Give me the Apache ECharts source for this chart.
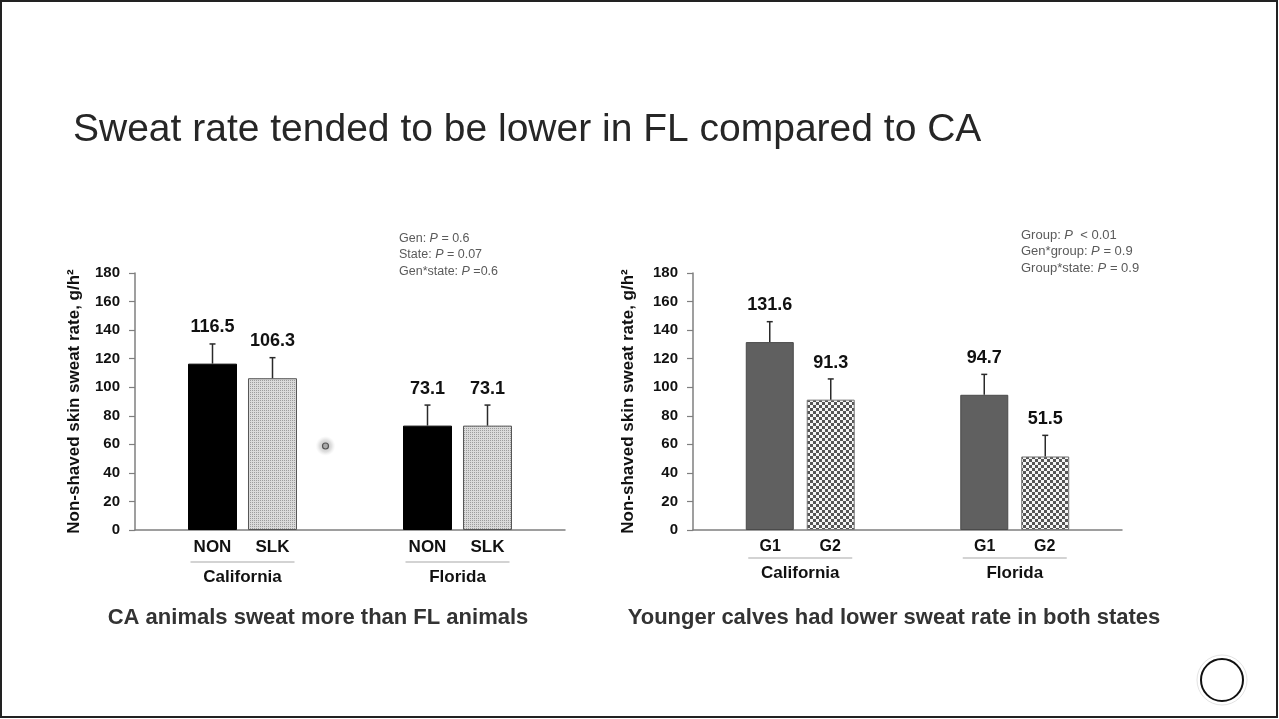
<!DOCTYPE html>
<html><head><meta charset="utf-8">
<script src="https://cdn.jsdelivr.net/npm/echarts@6/dist/echarts.min.js"></script>
<style>html,body{margin:0;padding:0;background:#fff}#c{width:1279px;height:719px}</style>
</head><body><div id="c"></div>
<script>
// ---- data ----
const groups = ['California', 'Florida'];
const leftNames = ['NON', 'SLK'];
const leftNON = [116.5, 73.1];
const leftSLK = [106.3, 73.1];
const leftNONErr = [13.8, 14.4];
const leftSLKErr = [14.4, 14.4];
const rightNames = ['G1', 'G2'];
const rightG1 = [131.6, 94.7];
const rightG2 = [91.3, 51.5];
const rightG1Err = [14.3, 14.3];
const rightG2Err = [14.5, 14.8];
const yMin = 0, yMax = 180, yStep = 20;
const yName = 'Non-shaved skin sweat rate, g/h\u00B2';
const leftStats = ['Gen: {i|P} = 0.6', 'State: {i|P} = 0.07', 'Gen*state: {i|P} =0.6'];
const rightStats = ['Group: {i|P}  < 0.01', 'Gen*group: {i|P} = 0.9', 'Group*state: {i|P} = 0.9'];
const titleText = 'Sweat rate tended to be lower in FL compared to CA';
const leftCaption = 'CA animals sweat more than FL animals';
const rightCaption = 'Younger calves had lower sweat rate in both states';

// ---- styles ----
const FONT = '"Liberation Sans", Arial, sans-serif';
function makePattern(w, h, draw) {
  const c = document.createElement('canvas'); c.width = w; c.height = h;
  draw(c.getContext('2d')); return c;
}
const slkPattern = makePattern(2, 2, ctx => {
  ctx.fillStyle = '#dadada'; ctx.fillRect(0, 0, 2, 2);
  ctx.fillStyle = '#9c9c9c'; ctx.fillRect(0, 0, 1, 1);
});
const checkPattern = makePattern(6, 6, ctx => {
  ctx.fillStyle = '#f6f6f6'; ctx.fillRect(0, 0, 6, 6);
  ctx.fillStyle = '#555555'; ctx.fillRect(0, 0, 3, 3); ctx.fillRect(3, 3, 3, 3);
});

const chart = echarts.init(document.getElementById('c'), null, {renderer: 'canvas'});

function xAxisCfg(gridIndex, names, lh, margin, fs) {
  return {
    type: 'category', gridIndex, data: groups,
    axisLine: {show: true, lineStyle: {color: '#7f7f7f', width: 1.5}},
    axisTick: {show: false},
    axisLabel: {
      margin, interval: 0,
      formatter: v => `{s|${names[0]}}{s|${names[1]}}\n{g|${v}}`,
      rich: {
        s: {width: 60, align: 'center', fontSize: fs, fontWeight: 'bold', lineHeight: lh, color: '#111', fontFamily: FONT},
        g: {fontSize: 17, fontWeight: 'bold', lineHeight: lh, color: '#111', fontFamily: FONT}
      }
    }
  };
}
function yAxisCfg(gridIndex, nameGap) {
  return {
    type: 'value', gridIndex, min: yMin, max: yMax, interval: yStep,
    name: yName, nameLocation: 'middle', nameRotate: 90, nameGap,
    nameTextStyle: {fontSize: 17, fontWeight: 'bold', color: '#111', fontFamily: FONT},
    axisLine: {show: true, lineStyle: {color: '#7f7f7f', width: 1.5}},
    axisTick: {show: true, length: 6, lineStyle: {color: '#7f7f7f', width: 1.2}},
    axisLabel: {margin: 15, fontSize: 15, fontWeight: 'bold', color: '#111', fontFamily: FONT},
    splitLine: {show: false}
  };
}
function barSeries(name, idx, values, color, border, barW, gapPct) {
  return {
    type: 'bar', name, xAxisIndex: idx, yAxisIndex: idx, data: values,
    barWidth: barW, barGap: gapPct, z: 2,
    itemStyle: {color, borderColor: border, borderWidth: 1},
    label: {show: true, position: 'top', distance: 28, fontSize: 18, fontWeight: 'bold',
      color: '#111', fontFamily: FONT, formatter: p => p.value.toFixed(1)},
    emphasis: {disabled: true}
  };
}
function errorSeries(idx, values, errs, slot, barW, gapPx) {
  return {
    type: 'custom', xAxisIndex: idx, yAxisIndex: idx, silent: true, z: 5,
    data: values.map((v, i) => [i, v, v + errs[i]]),
    renderItem(params, api) {
      const off = (slot - 0.5) * (barW + gapPx);
      const b = api.coord([api.value(0), api.value(1)]);
      const t = api.coord([api.value(0), api.value(2)]);
      const x = b[0] + off;
      return {type: 'group', children: [
        {type: 'line', shape: {x1: x, y1: b[1], x2: x, y2: t[1]}, style: {stroke: '#2a2a2a', lineWidth: 1.5}},
        {type: 'line', shape: {x1: x - 3, y1: t[1], x2: x + 3, y2: t[1]}, style: {stroke: '#2a2a2a', lineWidth: 1.5}}
      ]};
    }
  };
}
function underlineSeries(idx, dy, half) {
  return {
    type: 'custom', xAxisIndex: idx, yAxisIndex: idx, silent: true, z: 5,
    data: groups.map((g, i) => [i, 0]),
    renderItem(params, api) {
      const p = api.coord([api.value(0), 0]);
      return {type: 'line', shape: {x1: p[0] - half, y1: p[1] + dy, x2: p[0] + half, y2: p[1] + dy},
        style: {stroke: '#c4c4c4', lineWidth: 1.5}};
    }
  };
}
function statsText(x, y, lines, fs) {
  return {type: 'text', x, y, silent: true, style: {
    text: lines.join('\n'), fontSize: fs, fontFamily: FONT, fill: '#5a5a5a', lineHeight: 16.5,
    verticalAlign: 'top',
    rich: {i: {fontStyle: 'italic', fontSize: fs, fontFamily: FONT, fill: '#5a5a5a', lineHeight: 16.5}}
  }};
}

chart.setOption({
  animation: false,
  backgroundColor: '#ffffff',
  textStyle: {fontFamily: FONT},
  grid: [
    {left: 135, top: 273, width: 430, height: 257},
    {left: 693, top: 273, width: 429, height: 257}
  ],
  xAxis: [xAxisCfg(0, leftNames, 30, 2, 17), xAxisCfg(1, rightNames, 26, 4, 16)],
  yAxis: [yAxisCfg(0, 52), yAxisCfg(1, 56)],
  series: [
    barSeries(leftNames[0], 0, leftNON, '#000000', '#000000', 49, '22.4%'),
    barSeries(leftNames[1], 0, leftSLK, {image: slkPattern, repeat: 'repeat'}, '#555555', 49, '22.4%'),
    barSeries(rightNames[0], 1, rightG1, '#606060', '#4a4a4a', 48, '27%'),
    barSeries(rightNames[1], 1, rightG2, {image: checkPattern, repeat: 'repeat'}, '#777777', 48, '27%'),
    errorSeries(0, leftNON, leftNONErr, 0, 49, 11),
    errorSeries(0, leftSLK, leftSLKErr, 1, 49, 11),
    errorSeries(1, rightG1, rightG1Err, 0, 48, 13),
    errorSeries(1, rightG2, rightG2Err, 1, 48, 13),
    underlineSeries(0, 32, 52),
    underlineSeries(1, 28, 52)
  ],
  graphic: [
    {type: 'rect', silent: true, shape: {x: 1, y: 1, width: 1276, height: 716},
      style: {fill: 'none', stroke: '#222', lineWidth: 2}},
    {type: 'text', x: 73, y: 130, silent: true, style: {text: titleText, fontSize: 39, fontFamily: FONT,
      fill: '#262626', verticalAlign: 'middle'}},
    {type: 'text', x: 318, y: 618, silent: true, style: {text: leftCaption, fontSize: 22, fontWeight: 'bold',
      fontFamily: FONT, fill: '#333', align: 'center', verticalAlign: 'middle'}},
    {type: 'text', x: 894, y: 618, silent: true, style: {text: rightCaption, fontSize: 22, fontWeight: 'bold',
      fontFamily: FONT, fill: '#333', align: 'center', verticalAlign: 'middle'}},
    statsText(399, 230, leftStats, 12.5),
    statsText(1021, 227, rightStats, 13),
    {type: 'circle', silent: true, shape: {cx: 1222, cy: 680, r: 25}, style: {fill: 'none', stroke: '#e4e4e4', lineWidth: 1}},
    {type: 'circle', silent: true, shape: {cx: 1222, cy: 680, r: 21}, style: {fill: '#fff', stroke: '#111', lineWidth: 2}},
    {type: 'circle', silent: true, shape: {cx: 325.5, cy: 446, r: 10}, style: {fill: {
      type: 'radial', x: 0.5, y: 0.5, r: 0.5,
      colorStops: [{offset: 0, color: 'rgba(120,120,120,0.55)'}, {offset: 0.6, color: 'rgba(150,150,150,0.3)'}, {offset: 1, color: 'rgba(200,200,200,0)'}]
    }}},
    {type: 'circle', silent: true, shape: {cx: 325.5, cy: 446, r: 3}, style: {fill: '#aaa', stroke: '#555', lineWidth: 1.2}}
  ]
});
</script>
</body></html>
